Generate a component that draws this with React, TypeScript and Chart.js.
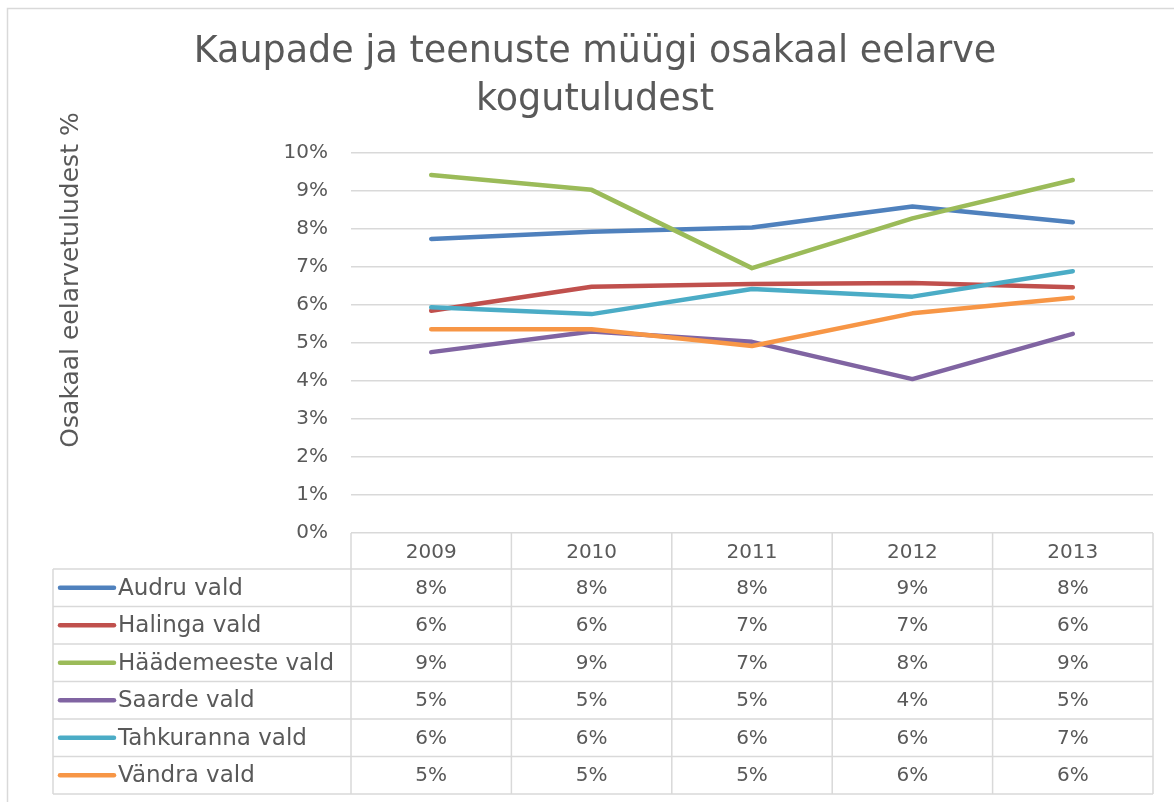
import React, { useEffect, useRef } from 'react';
import { Chart, registerables } from 'chart.js';

Chart.register(...registerables);

const categories = ['2009', '2010', '2011', '2012', '2013'];
const seriesNames = ['Audru vald', 'Halinga vald', 'Häädemeeste vald', 'Saarde vald', 'Tahkuranna vald', 'Vändra vald'];
const audru = [7.74, 7.93, 8.04, 8.59, 8.18];
const halinga = [5.85, 6.48, 6.55, 6.58, 6.47];
const haademeeste = [9.42, 9.03, 6.97, 8.28, 9.29];
const saarde = [4.76, 5.3, 5.03, 4.05, 5.24];
const tahkuranna = [5.94, 5.76, 6.42, 6.22, 6.89];
const vandra = [5.36, 5.36, 4.92, 5.78, 6.19];
const seriesColors = ['#4F81BD', '#C0504D', '#9BBB59', '#8064A2', '#4BACC6', '#F79646'];
const yTickValues = [0, 1, 2, 3, 4, 5, 6, 7, 8, 9, 10];
const titleLines = ['Kaupade ja teenuste müügi osakaal eelarve', 'kogutuludest'];
const yAxisTitle = 'Osakaal eelarvetuludest %';

const FONT = "'DejaVu Sans', sans-serif";
const TEXT = '#595959';
const GRID = '#D9D9D9';

const seriesValues = [audru, halinga, haademeeste, saarde, tahkuranna, vandra];

const tablePlugin = {
  id: 'tableAndFrame',
  afterDraw(chart: any) {
    const { ctx, chartArea } = chart;
    const left = chartArea.left;
    const right = chartArea.right;
    const top = chartArea.bottom;
    const n = categories.length;
    const colW = (right - left) / n;
    const headerBottom = top + 36;
    const rowH = 37.5;
    const legendLeft = 53;
    const tableBottom = headerBottom + seriesNames.length * rowH;
    ctx.save();
    // outer frame
    ctx.strokeStyle = GRID;
    ctx.lineWidth = 1.5;
    ctx.strokeRect(7.5, 8.5, chart.width + 20, chart.height + 20);
    // table grid
    ctx.beginPath();
    for (let i = 0; i <= n; i++) {
      const x = left + i * colW;
      ctx.moveTo(x, top);
      ctx.lineTo(x, tableBottom);
    }
    ctx.moveTo(legendLeft, headerBottom);
    ctx.lineTo(legendLeft, tableBottom);
    for (let k = 0; k <= seriesNames.length; k++) {
      const y = headerBottom + k * rowH;
      ctx.moveTo(legendLeft, y);
      ctx.lineTo(right, y);
    }
    ctx.stroke();
    // rows
    ctx.textBaseline = 'middle';
    for (let s = 0; s < seriesNames.length; s++) {
      const cy = headerBottom + s * rowH + rowH / 2;
      ctx.strokeStyle = seriesColors[s];
      ctx.lineWidth = 4.5;
      ctx.lineCap = 'round';
      ctx.beginPath();
      ctx.moveTo(60, cy);
      ctx.lineTo(114, cy);
      ctx.stroke();
      ctx.fillStyle = TEXT;
      ctx.font = `23px ${FONT}`;
      ctx.textAlign = 'left';
      ctx.fillText(seriesNames[s], 118, cy + 1);
      ctx.font = `20px ${FONT}`;
      ctx.textAlign = 'center';
      for (let i = 0; i < n; i++) {
        const cx = chart.scales.x.getPixelForValue(i);
        ctx.fillText(Math.round(seriesValues[s][i]) + '%', cx, cy + 1);
      }
    }
    // y axis title
    ctx.save();
    ctx.translate(71, 280);
    ctx.rotate(-Math.PI / 2);
    ctx.font = `25px ${FONT}`;
    ctx.fillStyle = TEXT;
    ctx.textAlign = 'center';
    ctx.textBaseline = 'middle';
    ctx.fillText(yAxisTitle, 0, 0);
    ctx.restore();
    ctx.restore();
  },
};

export default function App() {
  const ref = useRef<HTMLCanvasElement>(null);
  useEffect(() => {
    if (!ref.current) return;
    const chart = new Chart(ref.current, {
      type: 'line',
      data: {
        labels: categories,
        datasets: seriesNames.map((name, i) => ({
          label: name,
          data: seriesValues[i],
          borderColor: seriesColors[i],
          backgroundColor: seriesColors[i],
          borderWidth: 4.5,
          pointRadius: 0,
          borderCapStyle: 'round',
          borderJoinStyle: 'round',
          tension: 0,
          order: seriesNames.length - 1 - i,
        })),
      },
      options: {
        responsive: false,
        animation: false,
        devicePixelRatio: 1,
        layout: { padding: { left: 37, right: 37, top: 0, bottom: 0 } },
        plugins: {
          legend: { display: false },
          tooltip: { enabled: false },
          title: {
            display: true,
            text: titleLines,
            color: TEXT,
            font: { family: FONT, size: 36.5, weight: 'normal', lineHeight: 48 / 36.5 },
            padding: { top: 29, bottom: 28 },
          },
        },
        scales: {
          x: {
            offset: true,
            grid: { display: false },
            border: { display: false },
            ticks: { color: TEXT, font: { family: FONT, size: 20 }, padding: 0 },
            afterFit: (scale: any) => {
              scale.height = 269;
            },
          },
          y: {
            min: 0,
            max: 10,
            afterBuildTicks: (scale: any) => {
              scale.ticks = yTickValues.map((v) => ({ value: v }));
            },
            grid: { color: GRID, lineWidth: 1.5, drawTicks: false },
            border: { display: false },
            ticks: {
              color: TEXT,
              font: { family: FONT, size: 20 },
              padding: 23,
              callback: (v: any) => v + '%',
            },
            afterFit: (scale: any) => {
              scale.width = 314;
            },
          },
        },
      },
      plugins: [tablePlugin],
    });
    return () => chart.destroy();
  }, []);
  return (
    <div style={{ position: 'fixed', left: 0, top: 0, width: 1174, height: 802, overflow: 'hidden', background: '#fff' }}>
      <canvas ref={ref} width={1190} height={802} style={{ display: 'block', width: 1190, height: 802 }} />
    </div>
  );
}
